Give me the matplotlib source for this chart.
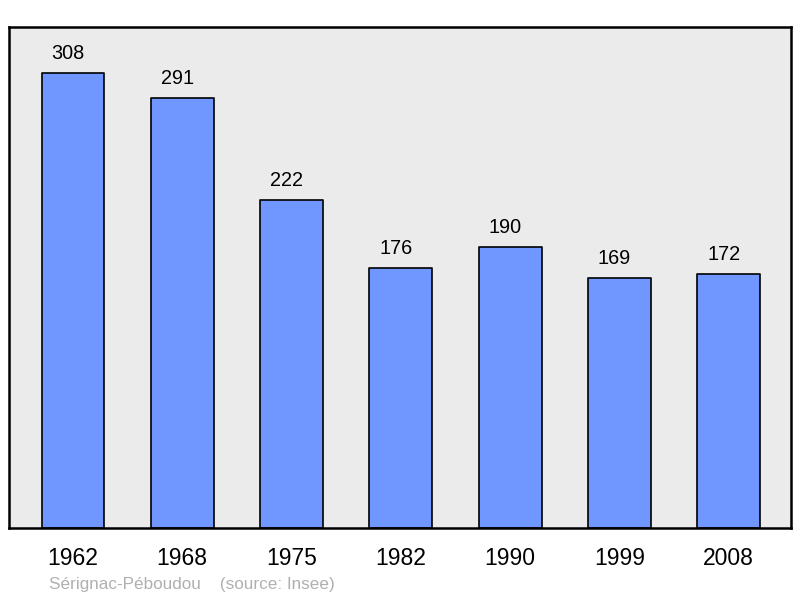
import matplotlib.pyplot as plt

years = ['1962', '1968', '1975', '1982', '1990', '1999', '2008']
population = [308, 291, 222, 176, 190, 169, 172]

plt.rcParams['font.family'] = ['Liberation Sans', 'DejaVu Sans']

fig = plt.figure(figsize=(8, 5.98), dpi=100)
ax = fig.add_axes([0.01125, 0.1171, 0.9775, 0.8377])
ax.set_facecolor('#ebebeb')

x = range(len(years))
bars = ax.bar(x, population, width=0.575, color='#7096ff', edgecolor='black',
              linewidth=1.2, zorder=2)
for b in bars:
    b.set_joinstyle('round')

for i, v in enumerate(population):
    ax.annotate(str(v), (i, v), xytext=(-5, 14), textcoords='offset pixels',
                ha='center', va='baseline', fontsize=14.3)

ax.set_xlim(-0.585, 6.57)
ax.set_ylim(0, 308 * 1.1)
ax.set_yticks([])
ax.set_xticks(list(x))
ax.set_xticklabels(years, fontsize=16.5)
ax.tick_params(axis='x', length=0, pad=14)
for s in ax.spines.values():
    s.set_linewidth(1.8)
    s.set_joinstyle('round')

fig.text(0.061, 1 - 584 / 598, 'Sérignac-Péboudou    (source: Insee)',
         color='#b0b0b0', fontsize=12.3, ha='left', va='center')

fig.savefig('out.png', dpi=100)
